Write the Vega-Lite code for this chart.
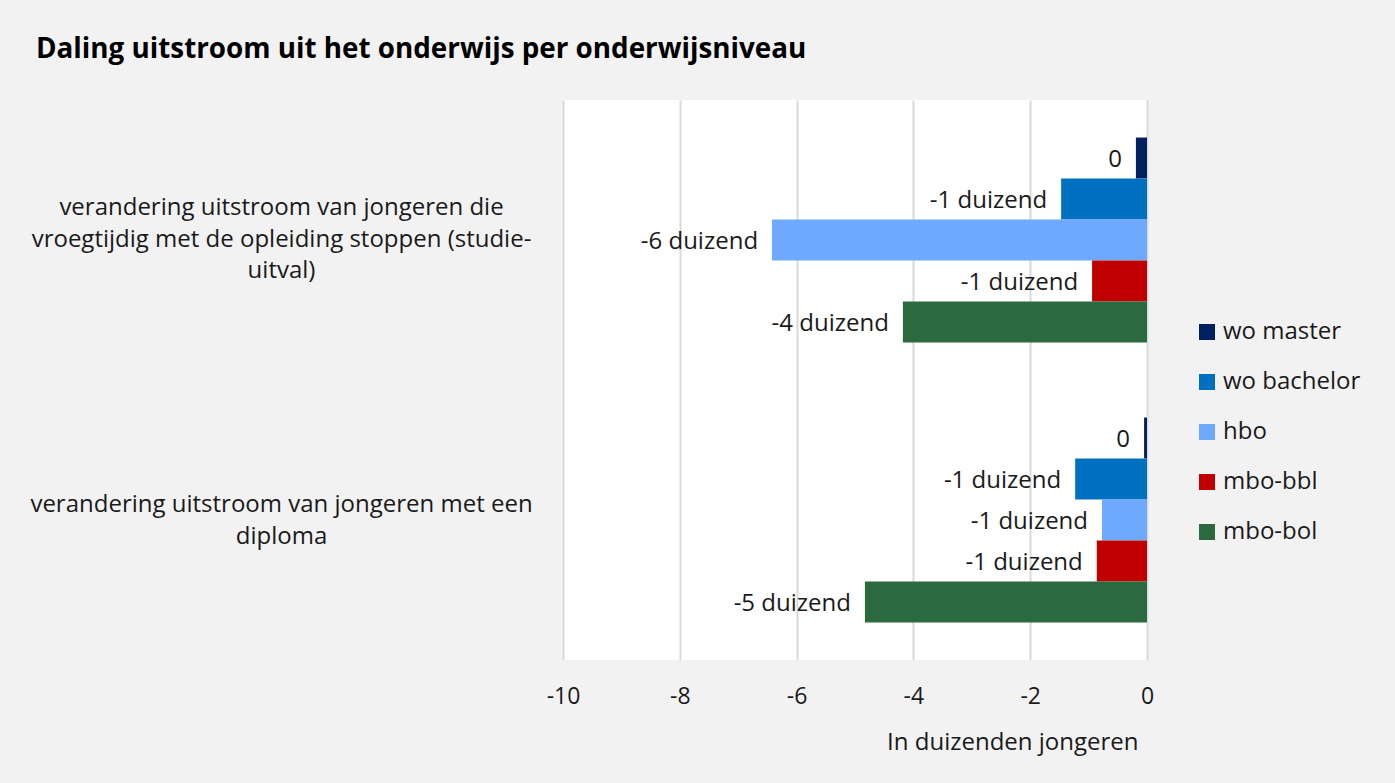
{
  "$schema": "https://vega.github.io/schema/vega-lite/v6.json",
  "autosize": "none",
  "width": 584,
  "height": 560,
  "padding": {"left": 563, "top": 100, "right": 248, "bottom": 123},
  "background": "#f2f2f2",
  "title": {
    "text": "Daling uitstroom uit het onderwijs per onderwijsniveau",
    "anchor": "start",
    "frame": "group",
    "dx": -527,
    "offset": 36,
    "font": "Open Sans",
    "fontSize": 27.8,
    "fontWeight": "bold",
    "color": "#000000"
  },
  "config": {
    "view": {"fill": "#ffffff", "stroke": null},
    "font": "Open Sans"
  },
  "data": {
    "values": [
      {"groep": "studie-uitval", "niveau": "wo master", "waarde": -0.19, "label": "0"},
      {"groep": "studie-uitval", "niveau": "wo bachelor", "waarde": -1.47, "label": "-1 duizend"},
      {"groep": "studie-uitval", "niveau": "hbo", "waarde": -6.42, "label": "-6 duizend"},
      {"groep": "studie-uitval", "niveau": "mbo-bbl", "waarde": -0.94, "label": "-1 duizend"},
      {"groep": "studie-uitval", "niveau": "mbo-bol", "waarde": -4.18, "label": "-4 duizend"},
      {"groep": "diploma", "niveau": "wo master", "waarde": -0.05, "label": "0"},
      {"groep": "diploma", "niveau": "wo bachelor", "waarde": -1.23, "label": "-1 duizend"},
      {"groep": "diploma", "niveau": "hbo", "waarde": -0.77, "label": "-1 duizend"},
      {"groep": "diploma", "niveau": "mbo-bbl", "waarde": -0.86, "label": "-1 duizend"},
      {"groep": "diploma", "niveau": "mbo-bol", "waarde": -4.83, "label": "-5 duizend"}
    ]
  },
  "encoding": {
    "y": {
      "field": "groep",
      "type": "nominal",
      "sort": ["studie-uitval", "diploma"],
      "scale": {"paddingInner": 0.268, "paddingOuter": 0.134},
      "axis": {
        "title": null,
        "domain": false,
        "ticks": false,
        "labelAlign": "center",
        "labelBaseline": "middle",
        "labelPadding": 282,
        "labelFontSize": 24,
        "labelColor": "#1a1a1a",
        "labelLineHeight": 31.5,
        "labelLimit": 0,
        "labelOffset": {"condition": {"test": "datum.value == 'studie-uitval'", "value": -32}, "value": -15},
        "labelExpr": "datum.value == 'studie-uitval' ? ['verandering uitstroom van jongeren die', 'vroegtijdig met de opleiding stoppen (studie-', 'uitval)'] : ['verandering uitstroom van jongeren met een', 'diploma']"
      }
    },
    "yOffset": {
      "field": "niveau",
      "type": "nominal",
      "sort": ["wo master", "wo bachelor", "hbo", "mbo-bbl", "mbo-bol"],
      "scale": {"paddingInner": 0, "paddingOuter": 0}
    },
    "x": {
      "field": "waarde",
      "type": "quantitative",
      "scale": {"domain": [-10, 0], "nice": false, "zero": false},
      "axis": {
        "values": [-10, -8, -6, -4, -2, 0],
        "labelExpr": "toString(datum.value)",
        "title": "In duizenden jongeren",
        "titleFontSize": 24,
        "titleFontWeight": "normal",
        "titleColor": "#1a1a1a",
        "titleAnchor": "end",
        "titleAlign": "right",
        "titleX": 575,
        "titleY": 89,
        "titleBaseline": "alphabetic",
        "domain": false,
        "ticks": false,
        "grid": true,
        "gridColor": "#d9d9d9",
        "gridWidth": 2,
        "labelFontSize": 23,
        "labelColor": "#1a1a1a",
        "labelPadding": 25,
        "labelFlush": false
      }
    }
  },
  "layer": [
    {
      "mark": {"type": "bar"},
      "encoding": {
        "color": {
          "field": "niveau",
          "type": "nominal",
          "sort": ["wo master", "wo bachelor", "hbo", "mbo-bbl", "mbo-bol"],
          "scale": {
            "domain": ["wo master", "wo bachelor", "hbo", "mbo-bbl", "mbo-bol"],
            "range": ["#002060", "#0070c0", "#6ea9fd", "#c00000", "#2b6a3f"]
          },
          "legend": {
            "title": null,
            "orient": "none",
            "legendX": 632,
            "legendY": 220,
            "symbolType": "square",
            "symbolSize": 256,
            "symbolStrokeWidth": 0,
            "labelFontSize": 24,
            "labelColor": "#1a1a1a",
            "rowPadding": 26,
            "labelOffset": 4
          }
        }
      }
    },
    {
      "mark": {"type": "text", "align": "right", "baseline": "middle", "dx": -14, "dy": 2, "fontSize": 24, "color": "#1a1a1a"},
      "encoding": {
        "text": {"field": "label"}
      }
    }
  ]
}
